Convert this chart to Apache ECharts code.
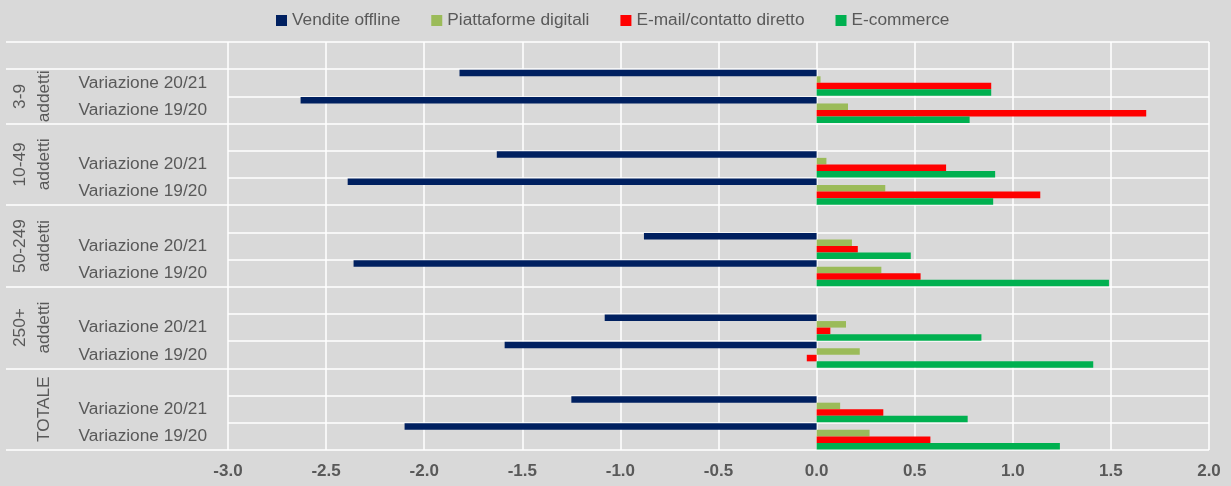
<!DOCTYPE html>
<html>
<head>
<meta charset="utf-8">
<script src="https://cdn.jsdelivr.net/npm/echarts@6/dist/echarts.min.js"></script>
<style>
html,body{margin:0;padding:0;background:#D9D9D9;}
#chart{width:1231px;height:486px;}
</style>
</head>
<body>
<div id="chart"></div>
<script>
// ---- data ----
const categories = [
  '',
  'Variazione 20/21', 'Variazione 19/20',
  '', 'Variazione 20/21', 'Variazione 19/20',
  '', 'Variazione 20/21', 'Variazione 19/20',
  '', 'Variazione 20/21', 'Variazione 19/20',
  '', 'Variazione 20/21', 'Variazione 19/20'
];
const groupLine1 = ['', '3-9', '10-49', '50-249', '250+', ''];
const groupLine2 = ['', 'addetti', 'addetti', 'addetti', 'addetti', 'TOTALE'];
const groupSizes = [1, 2, 3, 3, 3, 3];
const seriesNames = ['Vendite offline', 'Piattaforme digitali', 'E-mail/contatto diretto', 'E-commerce'];
const venditeOffline   = [null, -1.82, -2.63, null, -1.63, -2.39, null, -0.88, -2.36, null, -1.08, -1.59, null, -1.25, -2.10];
const piattaforme      = [null,  0.02,  0.16, null,  0.05,  0.35, null,  0.18,  0.33, null,  0.15,  0.22, null,  0.12,  0.27];
const emailContatto    = [null,  0.89,  1.68, null,  0.66,  1.14, null,  0.21,  0.53, null,  0.07, -0.05, null,  0.34,  0.58];
const eCommerce        = [null,  0.89,  0.78, null,  0.91,  0.90, null,  0.48,  1.49, null,  0.84,  1.41, null,  0.77,  1.24];
const xTicks = { min: -3, max: 2, step: 0.5 };
const colors = ['#002060', '#9BBB59', '#FF0000', '#00B050'];

// ---- derived group boundaries / centres ----
const groupBounds = [0];
groupSizes.forEach(s => groupBounds.push(groupBounds[groupBounds.length - 1] + s));
const groupCenters = groupSizes.map((s, i) => groupBounds[i] + s / 2);

const FONT = "'Liberation Sans', Arial, sans-serif";
const TXT = '#595959';
const FS = 17.3;

const chart = echarts.init(document.getElementById('chart'), null, { renderer: 'canvas' });
const seriesData = [venditeOffline, piattaforme, emailContatto, eCommerce];

function groupAxis(lines, margin, ticks) {
  return {
    type: 'value',
    min: 0, max: groupBounds[groupBounds.length - 1],
    inverse: true,
    position: 'left',
    axisLine: { show: false },
    splitLine: { show: false },
    axisTick: ticks ? {
      show: true, inside: false, length: 222,
      customValues: groupBounds,
      lineStyle: { color: '#FFFFFF', width: 1.5 }
    } : { show: false },
    axisLabel: {
      show: true,
      customValues: groupCenters,
      rotate: 90,
      margin: margin,
      fontFamily: FONT, fontSize: FS, color: TXT,
      formatter: v => lines[groupCenters.indexOf(v)]
    }
  };
}

chart.setOption({
  backgroundColor: '#D9D9D9',
  animation: false,
  color: colors,
  legend: {
    data: seriesNames,
    left: 271,
    top: 7,
    icon: 'rect',
    itemWidth: 11,
    itemHeight: 11,
    itemGap: 31,
    textStyle: { fontFamily: FONT, fontSize: FS, color: TXT }
  },
  grid: {
    left: 228, right: 22, top: 42, bottom: 36,
    containLabel: false, outerBoundsMode: 'none'
  },
  xAxis: {
    type: 'value',
    min: xTicks.min, max: xTicks.max, interval: xTicks.step,
    axisLine: { show: false },
    axisTick: { show: false },
    splitLine: { show: true, lineStyle: { color: '#FFFFFF', width: 1.5 } },
    axisLabel: {
      margin: 13,
      fontFamily: FONT, fontSize: 17, fontWeight: 'bold', color: TXT,
      formatter: v => v.toFixed(1)
    }
  },
  yAxis: [
    {
      type: 'category',
      data: categories,
      inverse: true,
      axisLine: { show: false },
      axisTick: { show: false },
      splitLine: { show: true, interval: 0, lineStyle: { color: '#FFFFFF', width: 1.5 } },
      axisLabel: {
        interval: 0,
        margin: 21,
        fontFamily: FONT, fontSize: FS, color: TXT
      }
    },
    groupAxis(groupLine2, 175, true),
    groupAxis(groupLine1, 199, false)
  ],
  series: seriesNames.map((name, i) => ({
    name: name,
    type: 'bar',
    yAxisIndex: 0,
    data: seriesData[i],
    barGap: '0%',
    barCategoryGap: '4%',
    itemStyle: { color: colors[i] }
  }))
});
</script>
</body>
</html>
